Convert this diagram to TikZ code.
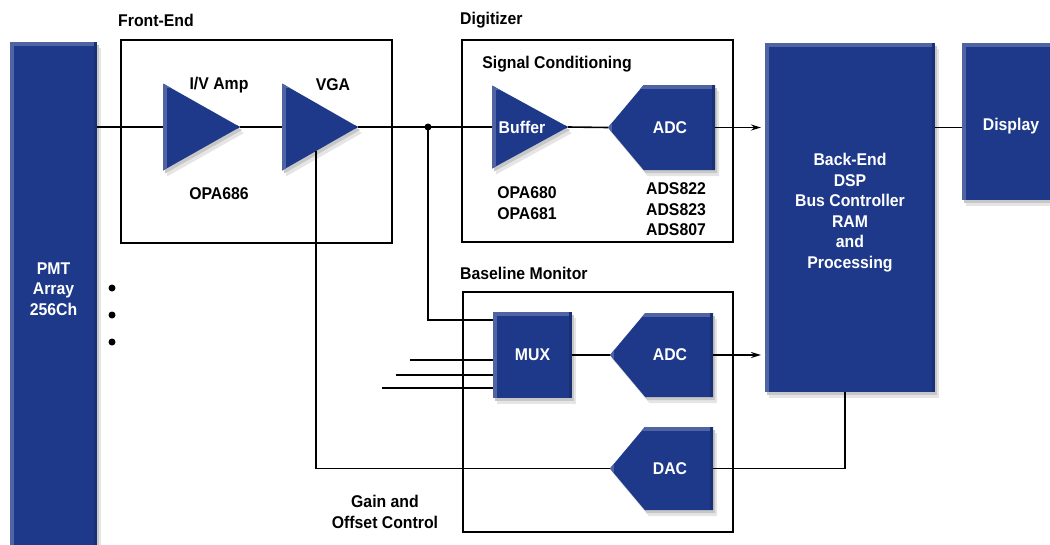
\documentclass[tikz,border=0pt]{standalone}
\usepackage{fontspec}
\setmainfont{Liberation Sans}[FakeStretch=0.93]
\usetikzlibrary{shapes.geometric,shapes.symbols,arrows.meta,calc}
\definecolor{blockblue}{RGB}{30,57,138}

\begin{document}
\begin{tikzpicture}[x=1pt,y=-1pt,
  font=\fontsize{17}{20.5}\selectfont\bfseries,
  blk/.style={fill=blockblue, text=white, inner sep=0pt, outer sep=0pt,
    preaction={fill=black!10, transform canvas={xshift=4pt, yshift=-6pt}},
    preaction={fill=black!22, transform canvas={xshift=2pt, yshift=-3pt}},
    path picture={
      \fill[blockblue!78!white] (path picture bounding box.south west) rectangle ([xshift=4pt]path picture bounding box.north west);
      \fill[blockblue!78!white] (path picture bounding box.north west) rectangle ([yshift=-4pt]path picture bounding box.north east);
      \fill[blockblue!85!black] (path picture bounding box.south east) rectangle ([xshift=-3pt]path picture bounding box.north east);}},
  amp/.style={blk, isosceles triangle, isosceles triangle stretches, shape border rotate=0, anchor=lower side},
  conv/.style={blk, signal, signal to=west, signal from=nowhere, signal pointer angle=100, anchor=west},
  frame/.style={draw, line width=2.8pt, inner sep=0pt, outer sep=0pt},
  lbl/.style={align=center, inner sep=0pt},
  wlbl/.style={lbl, text=white},
  wire/.style={line width=1.6pt},
  feed/.style={wire, -{Stealth[length=10pt,width=6pt]}, shorten >=4pt}]
\useasboundingbox (0,0) rectangle (1050,544);

% frames and their titles
\node[frame, minimum width=271pt, minimum height=203pt] (fe) at (256.5,141.5) {};
\node[frame, minimum width=271pt, minimum height=202pt] (dig) at (597.5,141) {};
\node[frame, minimum width=270pt, minimum height=240pt] (bm) at (598,412) {};
\node[lbl, anchor=west] (fetitle) at (118,20) {Front-End};
\node[lbl, anchor=west] (digtitle) at (460,20) {Digitizer};
\node[lbl, anchor=west] (bmtitle) at (460,273) {Baseline Monitor};
\node[lbl] (sctitle) at (557,64) {Signal Conditioning};

% blocks
\node[blk, minimum width=87pt, minimum height=506pt] (pmt) at (53.5,295) {};
\node[wlbl] (pmttxt) at (53.5,289) {PMT\\Array\\256Ch};
\node[amp, minimum height=77pt, minimum width=87pt] (iv) at (163,127) {};
\node[amp, minimum height=76pt, minimum width=87pt] (vga) at (282,127) {};
\node[amp, minimum height=76pt, minimum width=83pt] (buf) at (492,127) {};
\node[wlbl] (buftxt) at ([xshift=30pt]buf.lower side) {Buffer};
\node[conv, minimum width=107pt, minimum height=85pt] (adc) at (608,127.5) {};
\node[wlbl] (adctxt) at ([xshift=-45pt]adc.east) {ADC};
\node[blk, minimum width=79pt, minimum height=86pt] (mux) at (532.5,355) {};
\node[wlbl] (muxtxt) at (mux) {MUX};
\node[conv, minimum width=103pt, minimum height=84pt] (adcb) at (610,355) {};
\node[wlbl] (adcbtxt) at ([xshift=-43pt]adcb.east) {ADC};
\node[conv, minimum width=103pt, minimum height=83pt] (dac) at (610,468.5) {};
\node[wlbl] (dactxt) at ([xshift=-43pt]dac.east) {DAC};
\node[blk, minimum width=170pt, minimum height=349pt] (be) at (850,217.5) {};
\node[wlbl] (betxt) at (850,212.5) {Back-End\\DSP\\Bus Controller\\RAM\\and\\Processing};
\node[blk, minimum width=98pt, minimum height=157pt] (disp) at (1011,121.5) {};
\node[wlbl] (disptxt) at (1011,126) {Display};

% part names
\node[lbl] (ivtitle) at (219,85) {I/V Amp};
\node[lbl] (vgatitle) at (333,85) {VGA};
\node[lbl] (ivpart) at (219,194) {OPA686};
\node[lbl] (bufpart) at (527,203) {OPA680\\OPA681};
\node[lbl] (adcpart) at (676,209.5) {ADS822\\ADS823\\ADS807};
\node[lbl] (gaintitle) at (385,512) {Gain and\\Offset Control};

% signal path
\coordinate (junc) at (428,127);
\draw[wire] (pmt.east |- iv.lower side) -- (iv.lower side);
\draw[wire] (iv.apex) -- (vga.lower side);
\draw[wire] (vga.apex) -- (junc) -- (buf.lower side);
\draw[wire] (buf.apex) -- (adc.west);
\draw[feed] (adc.east) -- (be.west |- adc.east);
\draw[wire] (be.east |- adc.east) -- (disp.west |- adc.east);
\fill (junc) circle (3.5pt);

% baseline monitor
\draw[wire] (junc) |- ([yshift=-8pt]mux.north west);
\foreach \y/\x [count=\i] in {360/410,375/396,388/382} {
  \coordinate (in\i) at (\x,\y);
  \draw[wire] (in\i) -- (mux.west |- in\i);
}
\draw[wire] (mux.east) -- (adcb.west);
\draw[feed] (adcb.east) -- (be.west |- adcb.east);

% gain and offset control
\coordinate (vgactl) at ($(vga.right corner)!0.45!(vga.apex)$);
\draw[wire] ([xshift=-5pt]be.south) |- (dac.east);
\draw[wire] (dac.west) -| (vgactl);

\foreach \y in {288,315,342}
  \fill (112,\y) circle (3.5pt);

\end{tikzpicture}
\end{document}
